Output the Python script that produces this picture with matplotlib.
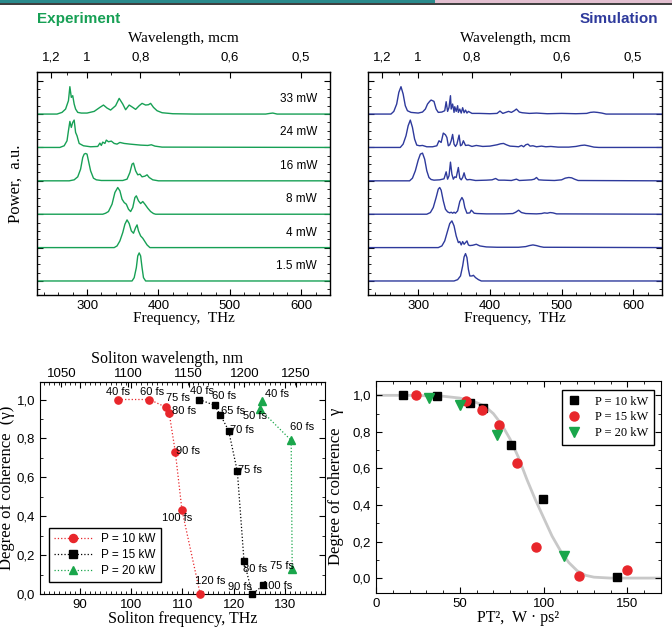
import matplotlib
matplotlib.use("Agg")
import matplotlib.pyplot as plt
from matplotlib.patches import Rectangle
from matplotlib.ticker import FixedLocator, MultipleLocator, FuncFormatter, NullFormatter
from matplotlib.lines import Line2D

SANS = ['Liberation Sans', 'DejaVu Sans']
SERIF = ['Liberation Serif', 'DejaVu Serif']
plt.rcParams['font.family'] = SANS

# ---------------- data: spectra (frequency THz, relative power) ----------------
powers = ["33 mW", "24 mW", "16 mW", "8 mW", "4 mW", "1.5 mW"]

exp_33_f = [230, 258, 265, 270, 274, 276, 278, 280, 282, 284, 287, 292, 300, 310, 318, 323, 328, 333, 340, 345, 350, 354, 359, 364, 368, 373, 377, 382, 386, 389, 393, 398, 405, 420, 450, 550, 556, 560, 566, 640]
exp_33_a = [0, 0, 0.05, 0.15, 0.4, 0.82, 0.5, 0.55, 0.3, 0.15, 0.05, 0.03, 0.03, 0.08, 0.2, 0.27, 0.18, 0.12, 0.25, 0.47, 0.3, 0.13, 0.27, 0.2, 0.14, 0.25, 0.32, 0.27, 0.28, 0.32, 0.2, 0.1, 0.04, 0.01, 0, 0, 0.02, 0.03, 0, 0]
exp_24_f = [230, 262, 268, 272, 274, 276, 278, 280, 282, 284, 286, 289, 295, 305, 315, 318, 320, 322, 325, 327, 330, 334, 338, 342, 346, 352, 360, 375, 385, 390, 395, 405, 640]
exp_24_a = [0, 0, 0.05, 0.2, 0.5, 0.78, 0.6, 0.75, 0.82, 0.45, 0.35, 0.12, 0.05, 0.02, 0.03, 0.13, 0.06, 0.16, 0.12, 0.22, 0.17, 0.19, 0.12, 0.1, 0.15, 0.12, 0.1, 0.07, 0.06, 0.08, 0.04, 0.01, 0]
exp_16_f = [230, 275, 282, 287, 291, 294, 296, 298, 300, 302, 305, 309, 313, 320, 350, 356, 360, 363, 365, 368, 371, 374, 377, 381, 384, 387, 392, 400, 640]
exp_16_a = [0, 0, 0.03, 0.12, 0.35, 0.7, 0.8, 0.82, 0.8, 0.6, 0.3, 0.08, 0.03, 0.01, 0.01, 0.05, 0.25, 0.5, 0.53, 0.3, 0.18, 0.2, 0.12, 0.14, 0.18, 0.1, 0.03, 0, 0]
exp_8_f = [230, 322, 326, 330, 335, 339, 343, 346, 349, 352, 355, 358, 361, 364, 367, 369, 372, 375, 378, 381, 385, 389, 393, 396, 640]
exp_8_a = [0, 0, 0.03, 0.08, 0.3, 0.65, 0.8, 0.7, 0.45, 0.35, 0.3, 0.15, 0.08, 0.2, 0.5, 0.55, 0.4, 0.32, 0.38, 0.3, 0.18, 0.08, 0.02, 0, 0]
exp_4_f = [230, 338, 342, 346, 350, 353, 356, 359, 362, 365, 368, 370, 372, 375, 378, 381, 384, 388, 640]
exp_4_a = [0, 0, 0.05, 0.2, 0.45, 0.7, 0.83, 0.72, 0.5, 0.43, 0.6, 0.68, 0.5, 0.35, 0.28, 0.18, 0.08, 0, 0]
exp_1_f = [230, 363, 366, 369, 371, 373, 375, 377, 379, 382, 640]
exp_1_a = [0, 0, 0.1, 0.4, 0.75, 0.84, 0.75, 0.4, 0.1, 0, 0]

sim_33_f = [230, 262, 266, 270, 273, 276, 279, 282, 285, 290, 300, 306, 310, 313, 316, 318, 320, 322, 325, 328, 333, 337, 339, 341, 343, 345, 346, 348, 350, 351, 353, 355, 356, 358, 360, 362, 364, 366, 368, 370, 375, 385, 400, 410, 414, 418, 422, 426, 430, 434, 437, 441, 445, 455, 465, 480, 500, 520, 535, 540, 545, 550, 556, 562, 640]
sim_33_a = [0, 0, 0.08, 0.3, 0.65, 0.82, 0.6, 0.25, 0.1, 0.05, 0.03, 0.06, 0.15, 0.3, 0.38, 0.42, 0.4, 0.38, 0.15, 0.05, 0.06, 0.1, 0.37, 0.08, 0.2, 0.55, 0.15, 0.3, 0.05, 0.22, 0.08, 0.25, 0.05, 0.15, 0.03, 0.19, 0.04, 0.12, 0.03, 0.08, 0.02, 0.02, 0.01, 0.02, 0.09, 0.02, 0.05, 0.08, 0.05, 0.1, 0.15, 0.06, 0.04, 0.02, 0.03, 0.01, 0.02, 0.01, 0.02, 0.05, 0.06, 0.05, 0.03, 0, 0]
sim_24_f = [230, 275, 279, 283, 286, 289, 292, 295, 298, 302, 306, 312, 320, 326, 329, 332, 335, 338, 340, 342, 344, 346, 348, 350, 352, 354, 357, 359, 361, 363, 366, 370, 375, 381, 390, 400, 410, 415, 419, 423, 428, 435, 440, 444, 447, 450, 453, 456, 460, 465, 472, 478, 485, 495, 510, 520, 527, 532, 537, 545, 552, 640]
sim_24_a = [0, 0, 0.1, 0.35, 0.65, 0.82, 0.6, 0.25, 0.07, 0.05, 0.06, 0.02, 0.02, 0.05, 0.2, 0.15, 0.43, 0.38, 0.3, 0.05, 0.08, 0.2, 0.39, 0.1, 0.03, 0.1, 0.37, 0.05, 0.08, 0.2, 0.06, 0.07, 0.03, 0.06, 0.03, 0.04, 0.08, 0.11, 0.12, 0.08, 0.04, 0.03, 0.02, 0.06, 0.02, 0.08, 0.1, 0.04, 0.05, 0.02, 0.04, 0.02, 0.03, 0.01, 0.01, 0.03, 0.06, 0.07, 0.05, 0.01, 0, 0]
sim_16_f = [230, 288, 292, 296, 300, 303, 306, 309, 312, 315, 318, 322, 330, 336, 339, 341, 343, 345, 347, 349, 351, 353, 356, 358, 360, 362, 364, 366, 368, 372, 380, 395, 403, 408, 412, 420, 430, 437, 441, 450, 458, 462, 465, 468, 475, 490, 500, 505, 510, 514, 518, 523, 640]
sim_16_a = [0, 0, 0.08, 0.3, 0.62, 0.8, 0.83, 0.65, 0.3, 0.1, 0.04, 0.02, 0.03, 0.06, 0.27, 0.05, 0.15, 0.56, 0.2, 0.05, 0.12, 0.1, 0.4, 0.08, 0.03, 0.1, 0.24, 0.08, 0.03, 0.04, 0.01, 0.02, 0.03, 0.07, 0.02, 0.02, 0.01, 0.05, 0.01, 0.02, 0.03, 0.05, 0.1, 0.03, 0.02, 0.01, 0.03, 0.08, 0.1, 0.09, 0.05, 0.01, 0]
sim_8_f = [230, 312, 317, 321, 325, 328, 330, 332, 335, 338, 341, 344, 346, 348, 350, 352, 355, 358, 361, 363, 365, 368, 372, 374, 376, 378, 382, 395, 420, 432, 436, 440, 444, 450, 465, 472, 476, 480, 484, 488, 493, 640]
sim_8_a = [0, 0, 0.05, 0.2, 0.5, 0.75, 0.8, 0.72, 0.4, 0.15, 0.07, 0.04, 0.06, 0.03, 0.06, 0.03, 0.1, 0.38, 0.5, 0.42, 0.2, 0.03, 0.04, 0.12, 0.08, 0.03, 0.02, 0.01, 0.01, 0.02, 0.06, 0.12, 0.05, 0.02, 0.01, 0.02, 0.04, 0.03, 0.05, 0.04, 0.01, 0]
sim_4_f = [230, 328, 333, 337, 341, 344, 347, 350, 353, 356, 358, 360, 362, 364, 366, 368, 370, 372, 376, 381, 386, 395, 410, 440, 450, 455, 460, 465, 470, 475, 640]
sim_4_a = [0, 0, 0.05, 0.2, 0.5, 0.72, 0.8, 0.65, 0.35, 0.15, 0.18, 0.08, 0.18, 0.1, 0.15, 0.2, 0.08, 0.06, 0.07, 0.1, 0.05, 0.02, 0.01, 0.01, 0.03, 0.06, 0.08, 0.06, 0.03, 0.01, 0]
sim_1_f = [230, 350, 355, 359, 362, 364, 366, 368, 370, 372, 375, 377, 380, 384, 388, 640]
sim_1_a = [0, 0, 0.04, 0.15, 0.45, 0.72, 0.82, 0.7, 0.35, 0.15, 0.15, 0.17, 0.1, 0.04, 0, 0]

exp_traces = [(exp_33_f, exp_33_a), (exp_24_f, exp_24_a), (exp_16_f, exp_16_a),
              (exp_8_f, exp_8_a), (exp_4_f, exp_4_a), (exp_1_f, exp_1_a)]
sim_traces = [(sim_33_f, sim_33_a), (sim_24_f, sim_24_a), (sim_16_f, sim_16_a),
              (sim_8_f, sim_8_a), (sim_4_f, sim_4_a), (sim_1_f, sim_1_a)]

wl_ticks = [1.2, 1.0, 0.8, 0.6, 0.5]
wl_labels = ["1,2", "1", "0,8", "0,6", "0,5"]
wl_minor = [1.1, 0.9, 0.7]

# ---------------- data: soliton coherence vs frequency ----------------
p10_freq = [97.5, 103.55, 106.8, 107.4, 108.6, 109.9, 113.45]
p10_gamma = [1.0, 1.0, 0.96, 0.93, 0.73, 0.43, 0.0]
p10_lbl = ["40 fs", "60 fs", "75 fs", "80 fs", "90 fs", "100 fs", "120 fs"]
p15_freq = [113.3, 116.25, 117.4, 119.0, 120.7, 122.0, 123.6, 125.8]
p15_gamma = [1.0, 0.97, 0.92, 0.84, 0.63, 0.17, 0.0, 0.045]
p15_lbl = ["40 fs", "60 fs", "65 fs", "70 fs", "75 fs", "80 fs", "90 fs", "100 fs"]
p20_freq = [125.6, 125.1, 131.2, 131.4]
p20_gamma = [0.99, 0.95, 0.79, 0.13]
p20_lbl = ["40 fs", "50 fs", "60 fs", "75 fs"]
soliton_wl_ticks = [1050, 1100, 1150, 1200, 1250]

# ---------------- data: coherence vs P*T^2 ----------------
sq_x = [16.3, 36.1, 56.3, 63.9, 80.8, 99.6, 143.7]
sq_y = [1.0, 0.995, 0.96, 0.93, 0.73, 0.433, 0.005]
ci_x = [23.8, 53.6, 63.3, 73.4, 84.3, 95.6, 121.0, 149.8]
ci_y = [1.0, 0.97, 0.92, 0.84, 0.63, 0.17, 0.01, 0.045]
tr_x = [31.7, 50.0, 72.2, 112.1]
tr_y = [0.987, 0.945, 0.785, 0.12]
fit_x = [0, 20, 40, 50, 60, 65, 70, 75, 80, 85, 90, 95, 100, 105, 110, 115, 120, 125, 130, 140, 170]
fit_y = [1.0, 1.0, 0.995, 0.985, 0.96, 0.94, 0.9, 0.84, 0.76, 0.66, 0.54, 0.43, 0.33, 0.23, 0.15, 0.085, 0.04, 0.015, 0.005, 0.0, 0.0]

# ---------------- styles ----------------
GREEN = '#17a055'
BLUE = '#2e3a9c'
RED = '#e8262b'
TRI_GREEN = '#1aa64b'
C_UM = 299.792458      # THz * um
C_NM = 299792.458      # THz * nm
PUMP = 371.9           # THz, soliton frequency shift reference

W, H = 672, 627
fig = plt.figure(figsize=(W / 100, H / 100), dpi=100)

def rect(l, t, r, b):
    return [l / W, 1 - b / H, (r - l) / W, (b - t) / H]

# top banner
fig.patches.append(Rectangle((0, 1 - 3 / H), 435 / W, 3 / H, transform=fig.transFigure,
                             facecolor='#2a8a8c', edgecolor='none'))
fig.patches.append(Rectangle((435 / W, 1 - 3 / H), 1 - 435 / W, 3 / H, transform=fig.transFigure,
                             facecolor='#e2bfd0', edgecolor='none'))
fig.lines.append(Line2D([0, 1], [1 - 3.5 / H, 1 - 3.5 / H], transform=fig.transFigure,
                        color='#1a1a1a', lw=1.2))

def comma_fmt(v, p):
    return f"{v:.1f}".replace('.', ',')

def spectra_panel(box, traces, color, show_labels):
    ax = fig.add_axes(rect(*box))
    n = len(traces)
    for i, (f, a) in enumerate(traces):
        base = n - 1 - i
        ax.plot(f, [base + v for v in a], color=color, lw=1.0)
        if show_labels:
            ax.text(622, base + 0.45, powers[i], ha='right', va='center', fontsize=8.5,
                    family=SANS)
    ax.set_xlim(230, 640)
    ax.set_ylim(-0.42, n + 0.26)
    ax.xaxis.set_major_locator(FixedLocator([300, 400, 500, 600]))
    ax.xaxis.set_minor_locator(MultipleLocator(20))
    ax.yaxis.set_major_locator(MultipleLocator(1))
    ax.yaxis.set_minor_locator(MultipleLocator(0.25))
    ax.yaxis.set_major_formatter(NullFormatter())
    ax.tick_params(which='both', direction='in', top=False, right=True, labelsize=9.5)
    ax.tick_params(which='major', length=4)
    ax.tick_params(which='minor', length=2)
    ax.set_xlabel("Frequency,  THz", family=SERIF, fontsize=11, labelpad=0)
    sec = ax.secondary_xaxis('top', functions=(lambda x: C_UM / x, lambda w: C_UM / w))
    sec.set_xticks(wl_ticks)
    sec.set_xticklabels(wl_labels)
    sec.xaxis.set_minor_locator(FixedLocator(wl_minor))
    sec.tick_params(which='both', direction='in', labelsize=9.5, pad=6)
    sec.tick_params(which='major', length=4)
    sec.tick_params(which='minor', length=2)
    sec.set_xlabel("Wavelength, mcm", family=SERIF, fontsize=11, labelpad=7)
    for s in ax.spines.values():
        s.set_linewidth(1.0)
    return ax

ax1 = spectra_panel((37, 72, 330, 295), exp_traces, GREEN, True)
ax1.set_ylabel("Power,  a.u.", family=SERIF, fontsize=12, labelpad=6)
ax2 = spectra_panel((368, 72, 662, 295), sim_traces, BLUE, False)

fig.text(37 / W, 1 - 19 / H, "Experiment", color=GREEN, fontsize=11, weight='bold',
         ha='left', va='center', family=SANS)
fig.text(658 / W, 1 - 19 / H, "Simulation", color=BLUE, fontsize=11, weight='bold',
         ha='right', va='center', family=SANS)

# ---------------- bottom-left ----------------
ax3 = fig.add_axes(rect(40, 382, 325, 594))
series = [
    (p10_freq, p10_gamma, p10_lbl, RED, 'o', 5.2, "P = 10 kW",
     [(0, 8), (3, 8), (12, 9), (15, 2), (13, 1), (-5, -8), (10, 13)]),
    (p15_freq, p15_gamma, p15_lbl, 'black', 's', 4.6, "P = 15 kW",
     [(3, 9), (10, 9), (13, 4), (13, 1), (13, 1), (11, -8), (-12, 7), (14, -1)]),
    (p20_freq, p20_gamma, p20_lbl, TRI_GREEN, '^', 5.2, "P = 20 kW",
     [(15, 7), (-5, -7), (11, 13), (-10, 3)]),
]
handles = []
for fx, gy, lbls, col, mk, ms, name, offs in series:
    ax3.plot(fx, gy, ls=':', color=col, lw=0.9, marker=mk, ms=ms, mec=col, mfc=col,
             clip_on=False, zorder=3)
    for x, y, t, (dx, dy) in zip(fx, gy, lbls, offs):
        ax3.annotate(t, (x, y), xytext=(dx * 0.72, dy * 0.72), textcoords='offset points',
                     ha='center', va='center', fontsize=8, family=SANS)
    handles.append(Line2D([], [], ls=':', color=col, lw=0.9, marker=mk, ms=ms + 0.6, label=name))
ax3.set_xlim(82.2, 137.8)
ax3.set_ylim(0, 1.09)
ax3.xaxis.set_major_locator(MultipleLocator(10))
ax3.xaxis.set_minor_locator(MultipleLocator(1))
ax3.yaxis.set_major_locator(MultipleLocator(0.2))
ax3.yaxis.set_minor_locator(MultipleLocator(0.1))
ax3.yaxis.set_major_formatter(FuncFormatter(comma_fmt))
ax3.tick_params(which='both', direction='in', top=True, right=True, labelsize=9.5)
ax3.tick_params(which='major', length=4)
ax3.tick_params(which='minor', length=2)
ax3.set_xlabel("Soliton frequency, THz", family=SERIF, fontsize=11.5, labelpad=0)
ax3.set_ylabel("Degree of coherence  (γ)", family=SERIF, fontsize=12, labelpad=1)
sec3 = ax3.secondary_xaxis('top', functions=(lambda f: C_NM / (PUMP - f),
                                             lambda w: PUMP - C_NM / w))
sec3.set_xticks(soliton_wl_ticks)
sec3.tick_params(which='both', direction='in', labelsize=9.5, pad=1.5)
ax3.text(0.445, 1.11, "Soliton wavelength, nm", transform=ax3.transAxes,
         ha='center', va='center', family=SERIF, fontsize=11.5)
leg3 = ax3.legend(handles=handles, loc='lower left', bbox_to_anchor=(0.033, 0.058),
                  borderaxespad=0, fontsize=8.5, frameon=True, fancybox=False,
                  edgecolor='black', framealpha=1, handlelength=3.2, labelspacing=0.35,
                  borderpad=0.4)
leg3.get_frame().set_linewidth(1.0)

# ---------------- bottom-right ----------------
ax4 = fig.add_axes(rect(376, 380.7, 661, 592.7))
ax4.plot(fit_x, fit_y, color='#c8c8c8', lw=2, zorder=1)
ax4.plot(sq_x, sq_y, ls='none', marker='s', ms=6, color='black', label="P = 10 kW", zorder=3)
ax4.plot(ci_x, ci_y, ls='none', marker='o', ms=6.5, color=RED, label="P = 15 kW", zorder=3)
ax4.plot(tr_x, tr_y, ls='none', marker='v', ms=7, color=TRI_GREEN, label="P = 20 kW", zorder=3)
ax4.set_xlim(0, 170)
ax4.set_ylim(-0.08, 1.08)
ax4.xaxis.set_major_locator(MultipleLocator(50))
ax4.xaxis.set_minor_locator(MultipleLocator(10))
ax4.yaxis.set_major_locator(MultipleLocator(0.2))
ax4.yaxis.set_minor_locator(MultipleLocator(0.1))
ax4.yaxis.set_major_formatter(FuncFormatter(comma_fmt))
ax4.tick_params(which='both', direction='in', top=True, right=True, labelsize=9.5)
ax4.tick_params(which='major', length=4)
ax4.tick_params(which='minor', length=2)
ax4.set_xlabel("PT²,  W · ps²", family=SERIF, fontsize=11.5, labelpad=0)
ax4.set_ylabel("Degree of coherence   γ", family=SERIF, fontsize=12, labelpad=6)
leg4 = ax4.legend(loc='upper right', bbox_to_anchor=(0.975, 0.956), borderaxespad=0,
                  prop={'family': SERIF, 'size': 9}, frameon=True, fancybox=False,
                  edgecolor='black', framealpha=1, handlelength=1.0, handletextpad=1.2,
                  labelspacing=0.3, borderpad=0.45)
leg4.get_frame().set_linewidth(1.0)

fig.savefig("out.png", dpi=100)
